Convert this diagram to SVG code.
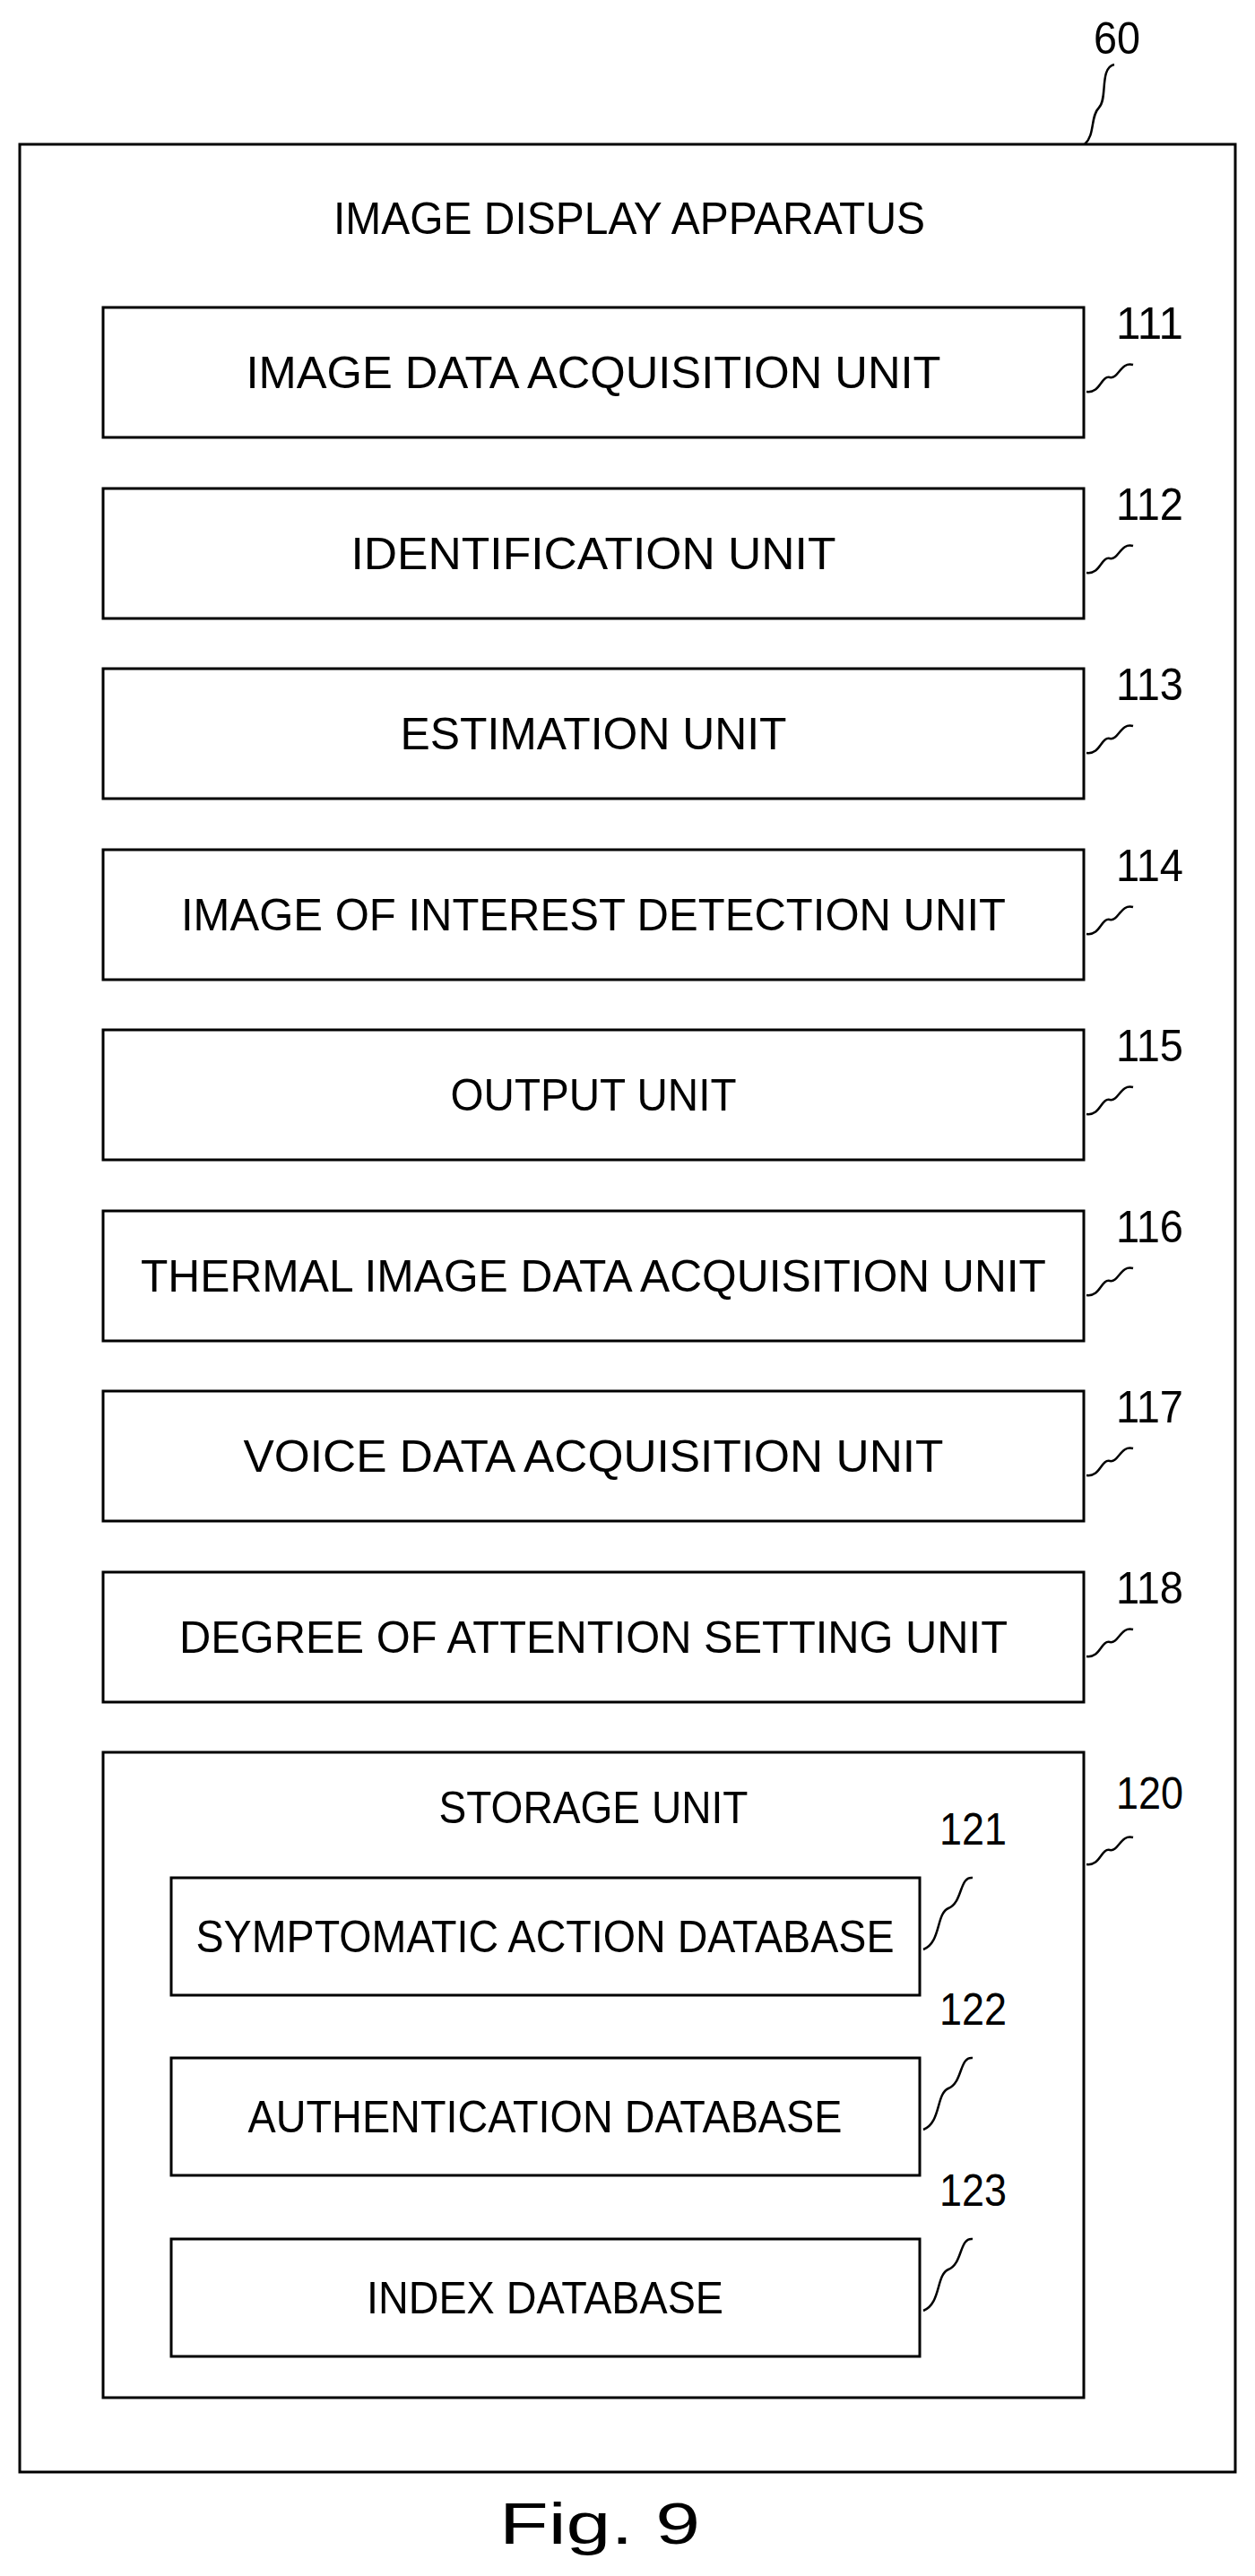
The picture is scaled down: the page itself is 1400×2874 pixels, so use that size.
<svg xmlns="http://www.w3.org/2000/svg" width="1400" height="2874" viewBox="0 0 1400 2874">
<style>
.b{fill:none;stroke:#000;stroke-width:3}
.t{font-family:"Liberation Sans",Arial,sans-serif;font-size:50px;fill:#000;text-anchor:middle}
.n{font-family:"Liberation Sans",Arial,sans-serif;font-size:50px;fill:#000;text-anchor:start}
.s{fill:none;stroke:#000;stroke-width:2.5}
</style>
<defs>
<path id="sq" d="M52,0 C38,-4 36,16 26,14 C16,12 16,32 0,30"/>
<path id="sqt" d="M55,0 C40,-2 44,28 28,34 C14,40 20,72 0,80"/>
</defs>
<rect fill="#fff" width="1400" height="2874"/>
<g id="apparatus">
<rect class="b" x="22" y="161" width="1356" height="2597"/>
<text class="t" x="702" y="261" textLength="660" lengthAdjust="spacingAndGlyphs">IMAGE DISPLAY APPARATUS</text>
<text class="n" x="1220" y="60" textLength="52" lengthAdjust="spacingAndGlyphs">60</text>
</g>
<g id="u111"><rect class="b" x="115" y="343" width="1094" height="145"/><text class="t" x="662" y="433" textLength="775" lengthAdjust="spacingAndGlyphs">IMAGE DATA ACQUISITION UNIT</text><text class="n" x="1245" y="378" textLength="75" lengthAdjust="spacingAndGlyphs">111</text></g>
<g id="u112"><rect class="b" x="115" y="545" width="1094" height="145"/><text class="t" x="662" y="635" textLength="541" lengthAdjust="spacingAndGlyphs">IDENTIFICATION UNIT</text><text class="n" x="1245" y="580" textLength="75" lengthAdjust="spacingAndGlyphs">112</text></g>
<g id="u113"><rect class="b" x="115" y="746" width="1094" height="145"/><text class="t" x="662" y="836" textLength="431" lengthAdjust="spacingAndGlyphs">ESTIMATION UNIT</text><text class="n" x="1245" y="781" textLength="75" lengthAdjust="spacingAndGlyphs">113</text></g>
<g id="u114"><rect class="b" x="115" y="948" width="1094" height="145"/><text class="t" x="662" y="1038" textLength="920" lengthAdjust="spacingAndGlyphs">IMAGE OF INTEREST DETECTION UNIT</text><text class="n" x="1245" y="983" textLength="75" lengthAdjust="spacingAndGlyphs">114</text></g>
<g id="u115"><rect class="b" x="115" y="1149" width="1094" height="145"/><text class="t" x="662" y="1239" textLength="319" lengthAdjust="spacingAndGlyphs">OUTPUT UNIT</text><text class="n" x="1245" y="1184" textLength="75" lengthAdjust="spacingAndGlyphs">115</text></g>
<g id="u116"><rect class="b" x="115" y="1351" width="1094" height="145"/><text class="t" x="662" y="1441" textLength="1010" lengthAdjust="spacingAndGlyphs">THERMAL IMAGE DATA ACQUISITION UNIT</text><text class="n" x="1245" y="1386" textLength="75" lengthAdjust="spacingAndGlyphs">116</text></g>
<g id="u117"><rect class="b" x="115" y="1552" width="1094" height="145"/><text class="t" x="662" y="1642" textLength="781" lengthAdjust="spacingAndGlyphs">VOICE DATA ACQUISITION UNIT</text><text class="n" x="1245" y="1587" textLength="75" lengthAdjust="spacingAndGlyphs">117</text></g>
<g id="u118"><rect class="b" x="115" y="1754" width="1094" height="145"/><text class="t" x="662" y="1844" textLength="924" lengthAdjust="spacingAndGlyphs">DEGREE OF ATTENTION SETTING UNIT</text><text class="n" x="1245" y="1789" textLength="75" lengthAdjust="spacingAndGlyphs">118</text></g>
<g id="u120"><rect class="b" x="115" y="1955" width="1094" height="720"/><text class="t" x="662" y="2034" textLength="345" lengthAdjust="spacingAndGlyphs">STORAGE UNIT</text><text class="n" x="1245" y="2018" textLength="75" lengthAdjust="spacingAndGlyphs">120</text></g>
<g id="d121"><rect class="b" x="191" y="2095" width="835" height="131"/><text class="t" x="608" y="2178" textLength="779" lengthAdjust="spacingAndGlyphs">SYMPTOMATIC ACTION DATABASE</text><text class="n" x="1048" y="2058" textLength="75" lengthAdjust="spacingAndGlyphs">121</text></g>
<g id="d122"><rect class="b" x="191" y="2296" width="835" height="131"/><text class="t" x="608" y="2379" textLength="663" lengthAdjust="spacingAndGlyphs">AUTHENTICATION DATABASE</text><text class="n" x="1048" y="2259" textLength="75" lengthAdjust="spacingAndGlyphs">122</text></g>
<g id="d123"><rect class="b" x="191" y="2498" width="835" height="131"/><text class="t" x="608" y="2581" textLength="398" lengthAdjust="spacingAndGlyphs">INDEX DATABASE</text><text class="n" x="1048" y="2461" textLength="75" lengthAdjust="spacingAndGlyphs">123</text></g>
<g id="connectors">
<path class="s" d="M1243,72 C1226,76 1236,110 1226,120 C1216,130 1222,150 1210,161"/>
<use href="#sq" class="s" x="1212" y="407"/>
<use href="#sq" class="s" x="1212" y="609"/>
<use href="#sq" class="s" x="1212" y="810"/>
<use href="#sq" class="s" x="1212" y="1012"/>
<use href="#sq" class="s" x="1212" y="1213"/>
<use href="#sq" class="s" x="1212" y="1415"/>
<use href="#sq" class="s" x="1212" y="1616"/>
<use href="#sq" class="s" x="1212" y="1818"/>
<use href="#sq" class="s" x="1212" y="2050"/>
<use href="#sqt" class="s" x="1030" y="2095"/>
<use href="#sqt" class="s" x="1030" y="2296"/>
<use href="#sqt" class="s" x="1030" y="2498"/>
</g>
<text class="t" x="669" y="2838" font-size="64" style="font-size:64px" textLength="224" lengthAdjust="spacingAndGlyphs">Fig. 9</text>
</svg>
